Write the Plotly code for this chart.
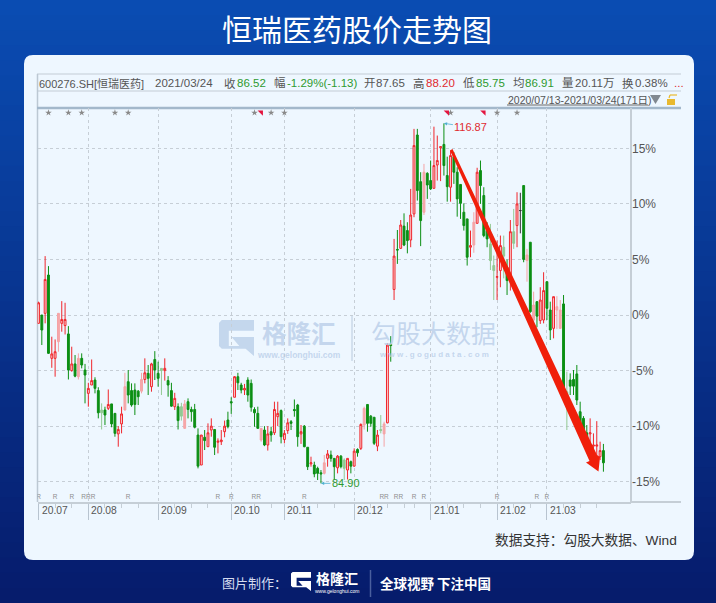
import numpy as np
import plotly.graph_objects as go

W, H = 716, 603

title = "恒瑞医药股价走势图"

# 171 个交易日,纵轴是相对涨跌幅(%)
opens = [-0.75, 0, 0.15, 3.6, -3.9, -3.9, -2.4, -0.75, -0.95, -1.7,
         -5, -4.4, -5.55, -3.9, -4.95, -7.05, -6.3, -5.85, -6.8, -8.55,
         -8.55, -8.4, -8, -8.85, -10.7, -9.8, -8.55, -6, -6.8, -6.75,
         -6.85, -6.85, -5.8, -5.25, -6.45, -4, -5.25, -4.8, -5, -5.9,
         -6.8, -8.25, -8.25, -8.25, -10.2, -7.8, -8.5, -8.5, -10.8, -13.5,
         -11, -11.85, -10.35, -10.3, -11.45, -11.4, -10.5, -9.45, -7.8, -7.4,
         -5.55, -6.3, -6.75, -5.85, -6.15, -8.5, -8.85, -11.25, -10.35, -11.7,
         -10.5, -10.6, -9.15, -8.6, -11.2, -10.4, -9.6, -8.5, -8.1, -10.7,
         -10, -11.9, -13.4, -13.5, -13.8, -14.2, -14.25, -12.9, -12.6, -12.9,
         -13.75, -12.7, -13.05, -13.95, -13.2, -13.6, -12.1, -12, -9.9, -8.05,
         -9.1, -9.2, -11.8, -10.3, -10.7, -9.7, -2.65, 2.3, 5.9, 6,
         8, 7.6, 6.75, 9.1, 16.2, 12, 9.25, 12.75, 12.1, 11.4,
         13.5, 15.05, 15.35, 12.55, 11.5, 14.25, 12.85, 11.75, 9.25, 8.65,
         6.1, 6.3, 8.25, 13, 10.75, 7.6, 6.4, 4.45, 3.4, 4,
         6.1, 4.3, 3.4, 7.5, 8.05, 9.4, 11.65, 4.9, 6.55, -0.45,
         1.2, -0.5, -0.45, 3, 0.45, -1.2, 0.45, -1.2, 1, -6.9,
         -5.85, -5.8, -5.3, -8.7, -9.3, -10.6, -10.7, -11.8, -11.8, -12.75,
         -12.2]
closes = [1.1, -1.35, 3.2, -3.45, -3.5, -3.3, 0.15, -0.4, -0.4, -4.95,
          -4.4, -5.5, -3.9, -4.5, -5.4, -6.6, -5.9, -6.6, -8.8, -8.8,
          -9, -8.05, -9.8, -10.65, -10.3, -8.9, -6.45, -7.2, -8.1, -8.05,
          -7.35, -5.8, -5.2, -5.7, -4.4, -4.95, -5.7, -5, -4.8, -6.3,
          -8.2, -7.5, -9.5, -9.1, -8, -8.5, -8.7, -10.1, -13.6, -10.8,
          -11.3, -10.6, -10, -11.9, -11.35, -11.25, -10, -10.05, -7.9, -5.55,
          -6.1, -6.75, -6.6, -7.2, -8.3, -8.8, -10.2, -10.2, -11.7, -10.7,
          -10.8, -8.5, -8.85, -10.95, -10.65, -9.7, -9.75, -8.6, -10.95, -10.5,
          -11.85, -13.65, -13.3, -14.3, -14.25, -14.3, -13.3, -12.5, -12.9, -13.65,
          -12.7, -13.65, -13.8, -12.9, -13.6, -12.25, -12.4, -9.85, -8.4, -9.75,
          -9.75, -11.55, -10.8, -10.4, -9.8, -2.7, -2.75, 5.3, 5.85, 8.1,
          6.3, 6.7, 9, 15.25, 11.2, 8.5, 12.85, 11.7, 11.35, 13.45,
          13.9, 15.15, 13.45, 11.55, 14.35, 12.85, 10.45, 10.05, 8.05, 5.2,
          6.25, 8.35, 12.85, 11.65, 7.15, 6.85, 4.9, 4, 3.45, 6.25,
          5.3, 3.1, 7.5, 6.45, 10, 9.4, 5, 5.4, 0.3, 0.9,
          -0.1, 1.35, 2.2, 0.6, -1.35, 1.65, 0.75, 0.45, -7.05, -7.8,
          -6.4, -6.4, -7.65, -10.35, -10.5, -11.1, -10.6, -11.7, -11.7, -12.2,
          -13.3]
highs = [1.2, 0, 5.3, 4.4, -1.95, -2.2, 0.15, 1.25, 1.1, -1,
         -2.85, -3.6, -3.45, -3.45, -4.4, -6.1, -4, -5.6, -6.5, -7.95,
         -8.25, -6.7, -8, -8.85, -10, -8.25, -5.2, -4.95, -6.15, -6.15,
         -6.75, -5.2, -3.9, -4.5, -4.3, -3.25, -4.2, -4.8, -3.9, -5.5,
         -6.1, -7, -7.95, -7.9, -7.65, -7.5, -8.25, -8, -10.2, -10.8,
         -10.35, -9.75, -9.3, -10.3, -11.1, -10.35, -9.5, -8.7, -7.4, -5.5,
         -5.2, -6.1, -6.2, -5.6, -5.8, -8.3, -8.25, -10.2, -10, -10,
         -10.05, -7.8, -7.8, -8.5, -10.35, -9.3, -9.45, -7.6, -8, -9.9,
         -9.9, -11.9, -12.75, -13.2, -13.65, -13.95, -12.6, -12.15, -12.2, -12.9,
         -12.6, -12.6, -12.9, -12.9, -13.1, -12, -12, -9.75, -8.25, -8.05,
         -9, -9.2, -10.35, -9, -9.6, -2.55, -1.9, 6.85, 7.65, 8.55,
         9.15, 8.35, 11.35, 16.75, 16.75, 12.85, 13.6, 12.85, 13.9, 16.95,
         16.15, 15.15, 17.25, 14.25, 14.8, 14.65, 13.3, 11.75, 10.05, 8.65,
         7.6, 9.25, 13.25, 13.9, 11.5, 8.35, 8.2, 5.35, 6.7, 7.15,
         7.15, 5, 8.55, 9.55, 11.05, 11, 11.65, 5.95, 6.55, 2.1,
         1.25, 2.5, 3.85, 3, 1.2, 1.65, 1.7, 1.35, 1.8, -5.1,
         -5.25, -4.95, -4.5, -7.8, -9.1, -9.9, -9.3, -10.65, -9.55, -11.4,
         -11.6]
lows = [-0.75, -2.7, -0.75, -3.5, -4.75, -5.55, -3.3, -1.5, -1.75, -5.8,
        -5.1, -5.6, -5.8, -4.8, -7.95, -8.25, -6.3, -7.05, -9.3, -10.3,
        -9.9, -8.55, -10.1, -10.95, -11.85, -10.65, -8.6, -7.95, -8.25, -9,
        -8.1, -7.05, -6.15, -7.2, -6.9, -5.85, -6.45, -7.2, -5.9, -7.35,
        -8.25, -8.55, -10.3, -9.5, -10.2, -9.3, -9.6, -10.2, -13.8, -13.5,
        -12.15, -11.85, -10.95, -12.6, -12.45, -11.7, -11, -10.2, -8.9, -7.4,
        -6.75, -7.05, -7.2, -7.8, -8.7, -10.05, -10.2, -11.4, -11.8, -12.2,
        -11.4, -10.8, -10, -11.55, -11.55, -10.7, -10.35, -9.15, -11.85, -11.6,
        -11.9, -13.95, -13.65, -14.6, -14.85, -15.15, -14.35, -13.65, -13.2, -14.85,
        -14.25, -13.8, -14.85, -14.8, -14.25, -13.65, -12.75, -12.15, -10.3, -10.5,
        -10.05, -11.7, -12.25, -10.65, -11.85, -9.75, -4.2, 1.35, 4.6, 5.95,
        6.2, 5.55, 6.1, 8.8, 10.3, 6.2, 9, 10.45, 11.25, 11.4,
        12.1, 12.05, 12.55, 10.2, 10.2, 11.8, 8.85, 8.65, 7.6, 4.45,
        5.2, 5.6, 8.25, 10, 7, 6.1, 4.05, 1.35, 1.35, 2.5,
        3.3, 1.8, 2.2, 5.95, 6.1, 7.35, 4.75, 3, 0.2, -0.75,
        -1.1, -0.8, -0.75, -0.45, -2.25, -2.1, -1.25, -1.25, -7.1, -10.35,
        -7.2, -7.2, -8.1, -10.65, -10.95, -11.25, -11.85, -12.75, -12.9, -13.05,
        -14.1]

# 颜色偏淡的 K 线和唯一一根黑色十字星
pale_days = [6, 12, 19, 26, 31, 37, 43, 44, 67, 86, 92, 98, 103, 104, 116, 131,
             136, 137, 140, 143, 147, 149, 156, 157, 159]
doji_days = [145]

month_days = [0, 15, 36, 58, 74, 95, 118, 138, 153]
month_labels = ["20.07", "20.08", "20.09", "20.10", "20.11", "20.12", "21.01", "21.02", "21.03"]
minor_days = [5, 10, 20, 25, 30, 41, 46, 51, 65, 70, 79, 84, 89, 100, 105, 110, 113, 123,
              128, 133, 143, 148, 158, 163, 168]
pct_ticks = [15, 10, 5, 0, -5, -10, -15]
pct_labels = ["15%", "10%", "5%", "0%", "-5%", "-10%", "-15%"]

star_days = [3, 9, 13, 23, 27, 65, 70, 74, 124, 138, 144]
flag_days = [67, 123, 134]
# 相邻的 R 写在一起
r_days = [0, 5, 10, 15, 27, 54, 58, 65.5, 80, 104, 108.3, 113, 116, 138, 150, 153]
r_texts = ["R", "R", "R", "RRR", "R", "R", "R", "RR", "R", "RR", "RR", "R", "R", "R", "R", "R"]

high_day, high_value, high_label = 122, 17.25, "116.87"
low_day, low_value, low_label = 85, -15.15, "84.90"


def X(px):
    return px / W


def Y(py):
    return 1 - py / H


def poly(points):
    return "M " + " L ".join(f"{X(a):.5f} {Y(b):.5f}" for a, b in points) + " Z"


def rect(x0, y0, x1, y1, color):
    return dict(type="rect", xref="paper", yref="paper", x0=X(x0), x1=X(x1), y0=Y(y0), y1=Y(y1),
                fillcolor=color, line_width=0, layer="below")


def line(x0, y0, x1, y1, color, width=1, layer="below"):
    return dict(type="line", xref="paper", yref="paper", x0=X(x0), x1=X(x1), y0=Y(y0), y1=Y(y1),
                line=dict(color=color, width=width), layer=layer)


def g_logo(x0, y0, w, h, color, layer="below"):
    unit = [(0.08, 0), (1, 0), (1, 0.3), (0.28, 0.3), (0.28, 0.72), (0.58, 0.72), (0.36, 0.47),
            (1, 0.47), (1, 1), (0.76, 0.8), (0.08, 0.8), (0, 0.72), (0, 0.08)]
    return dict(type="path", xref="paper", yref="paper", layer=layer, fillcolor=color, line_width=0,
                path=poly([(x0 + a * w, y0 + b * h) for a, b in unit]))


shapes = []

# 背景渐变
top_rgb = np.array([10, 76, 178])
bottom_rgb = np.array([6, 28, 108])
steps = 40
for i in range(steps):
    c = top_rgb + (bottom_rgb - top_rgb) * i / (steps - 1)
    shapes.append(rect(0, H * i / steps, W, H * (i + 1) / steps + 1, f"rgb({c[0]:.0f},{c[1]:.0f},{c[2]:.0f})"))

# 白色圆角面板
l, t, r, b, rad = 24, 55, 694, 560, 9
shapes.append(dict(
    type="path", xref="paper", yref="paper", layer="below", fillcolor="#eef7ff", line_width=0,
    path=(f"M {X(l + rad)} {Y(t)} L {X(r - rad)} {Y(t)} Q {X(r)} {Y(t)} {X(r)} {Y(t + rad)} "
          f"L {X(r)} {Y(b - rad)} Q {X(r)} {Y(b)} {X(r - rad)} {Y(b)} "
          f"L {X(l + rad)} {Y(b)} Q {X(l)} {Y(b)} {X(l)} {Y(b - rad)} "
          f"L {X(l)} {Y(t + rad)} Q {X(l)} {Y(t)} {X(l + rad)} {Y(t)} Z"),
))

# 行情头部的框线
shapes += [
    line(37, 74, 681, 74, "#c3ccd5"),
    line(37, 91, 681, 91, "#c3ccd5"),
    line(37.5, 74, 37.5, 502, "#bcc8d3", 1.5),
    line(37, 108, 681, 108, "#a3b8cb", 2.5),
    line(631, 108, 631, 502, "#c5ced6", 2),
    line(631, 502, 681, 502, "#c5ced6", 2),
]
# 下拉三角和小锁
shapes.append(dict(type="path", xref="paper", yref="paper", fillcolor="#808890", line_width=0,
                   path=poly([(650, 95), (661, 95), (655.5, 104)])))
shapes.append(rect(667, 99, 675, 105, "#e9b92f"))
shapes.append(line(669, 98, 670, 95, "#e9b92f", 1.2))
shapes.append(line(670, 95, 677, 95, "#e9b92f", 1.2))

# 水印
wm_color = "rgba(185,206,233,0.8)"
shapes.append(g_logo(219, 320, 35, 36, wm_color))
shapes.append(line(352, 315, 352, 361, "#d3e0ee", 2))

# 页脚
shapes.append(g_logo(291, 572, 20, 19, "#ffffff", layer="above"))
shapes.append(line(370.5, 570, 370.5, 597, "#4a5f9e", 1.5, layer="above"))

# 大红箭头,从上往下逐渐变粗
shapes.append(dict(type="path", xref="paper", yref="paper", layer="above", fillcolor="#f01f0a", line_width=0,
                   path=poly([(450, 150.5), (452.5, 149), (597, 455), (600, 457), (598.5, 471.5),
                              (586, 462.5), (589.5, 461)])))

opens = np.array(opens)
closes = np.array(closes)
highs = np.array(highs)
lows = np.array(lows)
days = np.arange(len(opens))

pale_mask = np.isin(days, pale_days)
doji_mask = np.isin(days, doji_days)


def candles(mask, up_line, up_fill, down_line, down_fill):
    return go.Candlestick(
        x=days[mask], open=opens[mask], high=highs[mask], low=lows[mask], close=closes[mask],
        increasing=dict(line=dict(color=up_line, width=1), fillcolor=up_fill),
        decreasing=dict(line=dict(color=down_line, width=1), fillcolor=down_fill),
        whiskerwidth=0, showlegend=False, hoverinfo="skip",
    )


fig = go.Figure()
fig.add_trace(candles(pale_mask, "#f5a3a5", "#f6a9ab", "#93c993", "#93c993"))
fig.add_trace(candles(~pale_mask & ~doji_mask, "#f0262c", "#fbd9da", "#0c8f14", "#0c8f14"))
fig.add_trace(candles(doji_mask, "#333333", "#333333", "#333333", "#333333"))

fig.add_trace(go.Scatter(x=star_days, y=[18.2] * len(star_days), mode="markers", hoverinfo="skip",
                         marker=dict(symbol="star", size=5, color="#8a8a8a", line_width=0), showlegend=False))
fig.add_trace(go.Scatter(x=flag_days, y=[18.25] * len(flag_days), mode="markers", hoverinfo="skip",
                         marker=dict(symbol="triangle-ne", size=6, color="#e3153f", line_width=0), showlegend=False))
fig.add_trace(go.Scatter(x=r_days, y=[-16.4] * len(r_days), mode="text", text=r_texts, hoverinfo="skip",
                         textfont=dict(size=6.5, color="#8f8f8f", family="Liberation Sans"), showlegend=False))

GRAY = "#555555"
GREEN = "#2f9a2f"
RED = "#e02a2f"
FONT = "Liberation Sans, Noto Sans CJK SC"
annotations = []


def label(px, py, text, size=12, color=GRAY, anchor="left", family=FONT, **kw):
    annotations.append(dict(xref="paper", yref="paper", x=X(px), y=Y(py), text=text, showarrow=False,
                            xanchor=anchor, yanchor="middle", font=dict(size=size, color=color, family=family),
                            borderpad=0, **kw))


label(357, 28, title, size=30, color="#ffffff", anchor="center", family="Noto Sans CJK SC")

header_y = 83
label(38, header_y, "600276.SH[恒瑞医药]", size=11, color=GRAY)
for px, text, color in [
    (154, "2021/03/24", GRAY), (223, "收", GRAY), (236, "86.52", GREEN),
    (273, "幅", GRAY), (286, "-1.29%(-1.13)", GREEN), (363, "开", GRAY), (375, "87.65", GRAY),
    (412, "高", GRAY), (425, "88.20", RED), (462, "低", GRAY), (475, "85.75", GREEN),
    (512, "均", GRAY), (524, "86.91", GREEN), (561, "量", GRAY), (574, "20.11万", GRAY),
    (621, "换", GRAY), (634, "0.38%", GRAY), (673, "...", RED),
]:
    label(px, header_y, text, size=11.5, color=color)
label(507, 100, "2020/07/13-2021/03/24(171日)", size=10.5, color=GRAY)
shapes.append(line(507, 105, 648, 105, "#666666", 1, layer="above"))

label(678, 540, "数据支持：勾股大数据、Wind", size=13.7, color="#333333", anchor="right")

# 水印文字
label(299, 332, "<b>格隆汇</b>", size=24.5, color=wm_color, anchor="center", family="Noto Sans CJK SC")
label(299, 355, "<b>www.gelonghui.com</b>", size=8.5, color=wm_color, anchor="center", family="Liberation Sans")
label(433, 332, "勾股大数据", size=25, color=wm_color, anchor="center", family="Noto Sans CJK SC")
label(434, 354, "<b>w w w . g o g u d a t a . c o m</b>", size=8, color=wm_color, anchor="center", family="Liberation Sans")

# 页脚文字
label(221, 582, "图片制作：", size=13, color="#d5dcf0", family="Noto Sans CJK SC")
label(337, 578, "<b>格隆汇</b>", size=14, color="#ffffff", anchor="center", family="Noto Sans CJK SC")
label(337, 591, "www.gelonghui.com", size=5, color="#ffffff", anchor="center", family="Liberation Sans")
label(379, 583, "<b>全球视野 下注中国</b>", size=13.5, color="#ffffff", family="Noto Sans CJK SC")

# 月份标签放在刻度右侧
for day, text in zip(month_days, month_labels):
    annotations.append(dict(xref="x", yref="paper", x=day, y=Y(510), text=text, showarrow=False, xanchor="left",
                            yanchor="middle", xshift=1, font=dict(size=10.3, color=GRAY, family=FONT)))

# 最高、最低价标注
annotations.append(dict(xref="x", yref="y", x=high_day, y=high_value, ax=27, ay=4, text=high_label,
                        showarrow=True, arrowhead=2, arrowsize=0.8, arrowwidth=0.8, arrowcolor="#4fb0cf",
                        font=dict(size=11, color=RED, family=FONT)))
annotations.append(dict(xref="x", yref="y", x=low_day, y=low_value, ax=25, ay=0, text=low_label,
                        showarrow=True, arrowhead=2, arrowsize=0.8, arrowwidth=0.8, arrowcolor="#4fb0cf",
                        font=dict(size=11, color=GREEN, family=FONT)))

fig.update_layout(
    width=W, height=H, margin=dict(l=0, r=0, t=0, b=0), autosize=False,
    paper_bgcolor="#082a88", plot_bgcolor="rgba(0,0,0,0)",
    shapes=shapes, annotations=annotations, showlegend=False, dragmode=False, boxgap=0.2,
    xaxis=dict(
        domain=[X(37.5), X(631)], range=[-0.3, 178.3], rangeslider_visible=False,
        tickmode="array", tickvals=month_days, showticklabels=False,
        ticks="outside", ticklen=16, tickwidth=1, tickcolor="#b8c4d0",
        showgrid=True, gridcolor="#c6ced6", griddash="dot", gridwidth=1, zeroline=False,
        showline=True, linecolor="#c5ced6", linewidth=2,
        minor=dict(tickmode="array", tickvals=minor_days, ticks="outside", ticklen=4, tickcolor="#c5ced6", showgrid=False),
    ),
    yaxis=dict(
        domain=[Y(501.7), Y(108)], range=[-16.8, 18.63], side="right",
        tickmode="array", tickvals=pct_ticks, ticktext=pct_labels, ticks="",
        tickfont=dict(size=12, color=GRAY, family=FONT),
        showgrid=True, gridcolor="#c6ced6", griddash="dot", gridwidth=1, zeroline=False, showline=False,
    ),
)

fig.write_html("out.html", config=dict(displayModeBar=False),
               post_script="document.body.style.margin='0';document.body.style.overflow='hidden';")
